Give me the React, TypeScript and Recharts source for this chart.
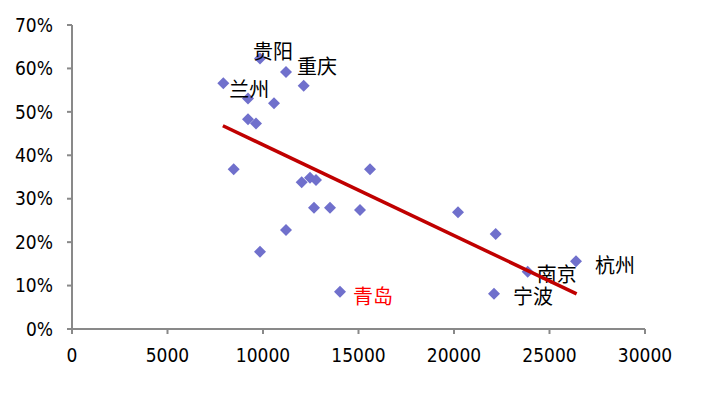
import { ScatterChart, Scatter, XAxis, YAxis } from 'recharts';

// income (x) vs share (y)
const xValues = [
  7921, 9843, 11204, 12131, 9215, 10576, 9215, 9634, 8466, 15602, 12026, 12461,
  12775, 12670, 13508, 15079, 11204, 9843, 14031, 20209, 22183, 23859, 22094, 26387,
];
const yValues = [
  0.566, 0.623, 0.592, 0.56, 0.531, 0.52, 0.483, 0.473, 0.368, 0.368, 0.338, 0.348,
  0.343, 0.279, 0.279, 0.274, 0.228, 0.178, 0.086, 0.269, 0.219, 0.132, 0.081, 0.156,
];
const cityNames = [
  '兰州', '贵阳', '重庆', '', '', '', '', '', '', '', '', '',
  '', '', '', '', '', '', '青岛', '', '', '南京', '宁波', '杭州',
];

const trendX = [7900, 26420];
const trendY = [0.468, 0.081];

const xTicks = [0, 5000, 10000, 15000, 20000, 25000, 30000];
const yTicks = [0, 0.1, 0.2, 0.3, 0.4, 0.5, 0.6, 0.7];

const points = xValues.map((x, i) => ({ x, y: yValues[i], name: cityNames[i] }));
const trend = trendX.map((x, i) => ({ x, y: trendY[i] }));

const labelOffset: Record<string, { dx: number; dy: number; color?: string }> = {
  兰州: { dx: 6, dy: 5 },
  贵阳: { dx: -7, dy: -8 },
  重庆: { dx: 11, dy: -6 },
  青岛: { dx: 13, dy: 4, color: '#FF0000' },
  宁波: { dx: 19, dy: 2 },
  南京: { dx: 9, dy: 2 },
  杭州: { dx: 19, dy: 3 },
};

const AXIS = '#898989';
const tickFont = {
  fontSize: 19,
  fill: '#000',
  fontFamily: '"DejaVu Sans Condensed", "DejaVu Sans", sans-serif',
  fontStretch: 'condensed',
};

const Diamond = (props: any) => {
  const { cx, cy } = props;
  const r = 6;
  return (
    <polygon
      points={`${cx},${cy - r} ${cx + r},${cy} ${cx},${cy + r} ${cx - r},${cy}`}
      fill="#7070CC"
    />
  );
};

const CityLabel = (props: any) => {
  const { cx, cy } = props;
  const name = props.payload?.name ?? props.name;
  if (!name || !labelOffset[name]) return <g />;
  const o = labelOffset[name];
  return (
    <text
      x={cx + o.dx}
      y={cy + o.dy}
      dominantBaseline="central"
      textAnchor="start"
      fontSize={20}
      fontFamily='"Noto Sans CJK SC", sans-serif'
      fill={o.color ?? '#000'}
    >
      {name}
    </text>
  );
};

export default function App() {
  return (
    <div style={{ position: 'absolute', left: 0, top: 0, background: '#fff' }}>
      <ScatterChart width={706} height={398} margin={{ top: 25, right: 61, bottom: 29, left: 0 }}>
        <XAxis
          type="number"
          dataKey="x"
          domain={[0, 30000]}
          ticks={xTicks}
          height={40}
          tick={tickFont}
          tickSize={5}
          tickMargin={15}
          axisLine={{ stroke: AXIS, strokeWidth: 2 }}
          tickLine={{ stroke: AXIS, strokeWidth: 2 }}
        />
        <YAxis
          type="number"
          dataKey="y"
          domain={[0, 0.7]}
          ticks={yTicks}
          width={72}
          tick={tickFont}
          tickSize={5}
          tickMargin={14}
          tickFormatter={(v: number) => `${Math.round(v * 100)}%`}
          axisLine={{ stroke: AXIS, strokeWidth: 2 }}
          tickLine={{ stroke: AXIS, strokeWidth: 2 }}
        />
        <Scatter data={points} shape={<Diamond />} isAnimationActive={false} />
        <Scatter data={points} shape={<CityLabel />} isAnimationActive={false} />
        <Scatter
          data={trend}
          line={{ stroke: '#C00000', strokeWidth: 3.5 }}
          lineType="joint"
          shape={() => <g />}
          isAnimationActive={false}
        />
      </ScatterChart>
    </div>
  );
}
